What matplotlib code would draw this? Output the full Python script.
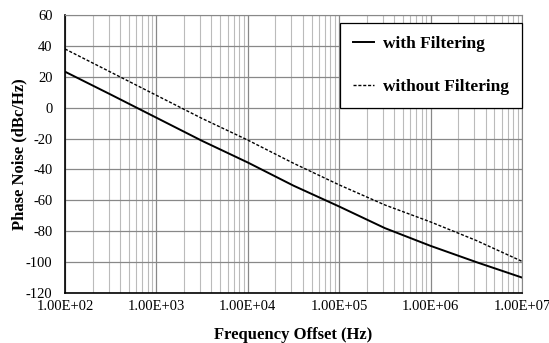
import matplotlib
matplotlib.use("AGG")
import matplotlib.pyplot as plt
from matplotlib.ticker import LogLocator, FixedLocator, FuncFormatter

plt.rcParams['font.family'] = ['Liberation Serif', 'DejaVu Serif']
plt.rcParams['axes.unicode_minus'] = False

# log10 of frequency offset (Hz)
log_freq = [2.0, 2.5, 3.0, 3.5, 4.0, 4.5, 5.0, 5.5, 6.0, 6.5, 7.0]
freq = [10 ** f for f in log_freq]
with_filter = [23.3, 8.5, -6.5, -21.5, -35.5, -50.5, -64, -78, -89.5, -100, -110]
without_filter = [38, 23, 8, -7, -21, -36, -50, -63, -74, -86, -99.5]

x_ticks = [1e2, 1e3, 1e4, 1e5, 1e6, 1e7]
y_ticks = [-120, -100, -80, -60, -40, -20, 0, 20, 40, 60]

fig = plt.figure(figsize=(5.49, 3.43), dpi=100)
ax = fig.add_axes([65 / 549, 50 / 343, 457 / 549, 278 / 343])

ax.plot(freq, with_filter, color='black', lw=1.4, label='with Filtering')
ax.plot(freq, without_filter, color='black', lw=1.0, ls=(0, (2.2, 1.3)),
        label='without Filtering')

ax.set_xscale('log')
ax.set_xlim(1e2, 1e7)
ax.set_ylim(-120, 60)
ax.xaxis.set_major_locator(FixedLocator(x_ticks))
ax.xaxis.set_minor_locator(LogLocator(base=10, subs=range(2, 10), numticks=20))
ax.xaxis.set_major_formatter(FuncFormatter(lambda v, p: "%.2E" % v))
ax.xaxis.set_minor_formatter(FuncFormatter(lambda v, p: ""))
ax.set_yticks(y_ticks)

ax.grid(which='major', color='#888888', lw=0.9)
ax.grid(which='minor', axis='x', color='#bbbbbb', lw=0.8)
ax.set_axisbelow(True)
ax.tick_params(which='both', length=0, labelsize=10.5)
ax.tick_params(axis='y', pad=9)
ax.tick_params(axis='x', pad=5)

for side in ['top', 'right']:
    ax.spines[side].set_color('#888888')
for side in ['left', 'bottom']:
    ax.spines[side].set_color('black')
    ax.spines[side].set_linewidth(1.2)

ax.set_xlabel('Frequency Offset (Hz)', fontsize=12, fontweight='bold', labelpad=10)
ax.set_ylabel('Phase Noise (dBc/Hz)', fontsize=12, fontweight='bold', labelpad=-1)

leg = ax.legend(loc='upper right', bbox_to_anchor=(1.0, 0.971), borderaxespad=0,
                fancybox=False, framealpha=1, edgecolor='black',
                handlelength=1.2, labelspacing=1.55, borderpad=0.75,
                handletextpad=0.5, prop={'weight': 'bold', 'size': 12.5})
leg.get_frame().set_linewidth(0.9)

plt.savefig('out.png', dpi=100)
